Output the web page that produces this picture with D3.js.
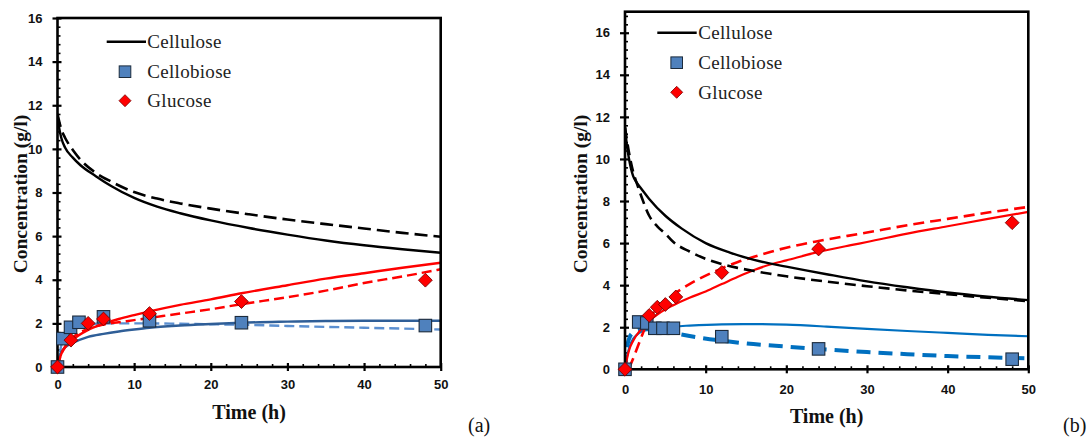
<!DOCTYPE html>
<html>
<head>
<meta charset="utf-8">
<script src="https://cdn.jsdelivr.net/npm/d3@7"></script>
<style>
  html, body { margin: 0; padding: 0; background: #fff; }
  svg { display: block; }
</style>
</head>
<body>
<svg id="chart" width="1091" height="438"></svg>
<script>
// ---------- shared labels / ticks ----------
const legendLabels = ["Cellulose", "Cellobiose", "Glucose"];
const xTitle = "Time (h)";
const yTitle = "Concentration (g/l)";
const timeTicks = [0, 10, 20, 30, 40, 50];
const concTicks = [0, 2, 4, 6, 8, 10, 12, 14, 16];

// ---------- panel (a) ----------
const a_cellobioseT = [0, 0.7, 1.7, 2.8, 6, 12, 24, 48];
const a_cellobioseC = [0, 1.3, 1.82, 2.05, 2.3, 2.12, 2.03, 1.9];
const a_glucoseT = [0, 1.75, 4, 6, 12, 24, 48];
const a_glucoseC = [0, 1.23, 2.0, 2.2, 2.45, 3.0, 3.98];

const a_celluloseSolidT = [0, 0.25, 0.5, 1, 2, 3, 5, 7, 10, 13, 16, 20, 25, 30, 35, 40, 45, 50];
const a_celluloseSolidC = [11.6, 10.9, 10.5, 10.05, 9.6, 9.25, 8.75, 8.3, 7.75, 7.35, 7.05, 6.72, 6.37, 6.07, 5.8, 5.58, 5.4, 5.24];
const a_celluloseDashT = [0, 0.5, 1, 1.5, 2, 3, 5, 7, 10, 13, 16, 20, 25, 30, 35, 40, 45, 50];
const a_celluloseDashC = [11.6, 10.9, 10.5, 10.2, 9.95, 9.5, 8.9, 8.5, 8.02, 7.72, 7.5, 7.26, 7.0, 6.76, 6.55, 6.35, 6.15, 5.97];
const a_glucoseSolidT = [0, 0.5, 1, 2, 4, 6, 8, 10, 12, 16, 20, 24, 30, 35, 40, 45, 50];
const a_glucoseSolidC = [0, 0.6, 0.9, 1.25, 1.7, 1.98, 2.2, 2.38, 2.55, 2.85, 3.1, 3.38, 3.75, 4.05, 4.3, 4.55, 4.78];
const a_glucoseDashT = [0, 0.5, 1, 2, 4, 6, 8, 10, 12, 16, 20, 24, 30, 35, 40, 45, 50];
const a_glucoseDashC = [0, 0.6, 0.95, 1.35, 1.75, 1.95, 2.05, 2.15, 2.25, 2.45, 2.65, 2.88, 3.2, 3.5, 3.85, 4.15, 4.48];
const a_cellobioseSolidT = [0, 0.3, 0.5, 1, 2, 4, 6, 8, 10, 12, 16, 20, 24, 30, 35, 40, 45, 50];
const a_cellobioseSolidC = [0, 0.55, 0.7, 0.9, 1.1, 1.38, 1.52, 1.63, 1.72, 1.8, 1.9, 1.97, 2.03, 2.08, 2.11, 2.12, 2.12, 2.12];
const a_cellobioseDashT = [0, 0.5, 1, 2, 3, 5, 8, 12, 16, 20, 25, 30, 35, 40, 45, 50];
const a_cellobioseDashC = [0, 1.0, 1.4, 1.75, 1.9, 1.98, 2.0, 2.0, 1.98, 1.96, 1.93, 1.88, 1.84, 1.8, 1.76, 1.72];

// ---------- panel (b) ----------
const b_cellobioseT = [0, 1.7, 2.7, 3.7, 4.7, 6, 12, 24, 48];
const b_cellobioseC = [0, 2.25, 2.2, 1.95, 1.95, 1.95, 1.55, 0.97, 0.48];
const b_glucoseT = [0, 3, 4, 5, 6.3, 12, 24, 48];
const b_glucoseC = [0, 2.56, 2.95, 3.08, 3.44, 4.6, 5.72, 6.97];

const b_celluloseSolidT = [0, 0.25, 0.5, 1, 1.5, 2, 3, 5, 7, 10, 13, 16, 19, 20, 25, 30, 35, 40, 45, 50];
const b_celluloseSolidC = [11.5, 10.6, 10.0, 9.2, 8.85, 8.6, 8.1, 7.3, 6.7, 6.0, 5.55, 5.2, 4.95, 4.88, 4.52, 4.18, 3.9, 3.65, 3.45, 3.29];
const b_celluloseDashT = [0, 0.5, 1, 1.5, 2, 3, 4, 5, 6, 8, 10, 12, 14, 16, 18, 20, 25, 30, 35, 40, 45, 50];
const b_celluloseDashC = [11.5, 10.3, 9.4, 8.8, 8.25, 7.3, 6.8, 6.45, 6.05, 5.6, 5.25, 5.0, 4.82, 4.67, 4.54, 4.42, 4.17, 3.95, 3.75, 3.57, 3.4, 3.24];
const b_glucoseSolidT = [0, 0.3, 0.5, 1, 2, 3, 4, 5, 6, 8, 10, 12, 14, 16, 18, 20, 24, 28, 30, 35, 40, 45, 50];
const b_glucoseSolidC = [0, 0.6, 0.9, 1.35, 1.9, 2.3, 2.6, 2.85, 3.05, 3.4, 3.7, 4.05, 4.4, 4.72, 4.98, 5.18, 5.58, 5.9, 6.05, 6.45, 6.8, 7.15, 7.48];
const b_glucoseDashT = [0.5, 1, 1.5, 2, 3, 4, 5, 6, 8, 10, 12, 14, 16, 18, 20, 24, 30, 35, 40, 45, 50];
const b_glucoseDashC = [0.05, 0.5, 1.0, 1.5, 2.4, 2.9, 3.25, 3.55, 4.05, 4.45, 4.8, 5.1, 5.35, 5.58, 5.78, 6.1, 6.5, 6.85, 7.15, 7.45, 7.72];
const b_cellobioseSolidT = [0, 0.3, 0.5, 1, 1.5, 2, 3, 5, 8, 12, 16, 20, 25, 30, 35, 40, 45, 50];
const b_cellobioseSolidC = [0, 0.7, 1.0, 1.45, 1.65, 1.78, 1.9, 2.0, 2.08, 2.14, 2.15, 2.12, 2.03, 1.92, 1.82, 1.73, 1.64, 1.57];
const b_cellobioseDashT = [0, 0.2, 0.5, 1, 2, 3, 5, 7, 9, 12, 15, 20, 24, 30, 35, 40, 45, 50];
const b_cellobioseDashC = [0, 0.9, 1.45, 1.75, 1.9, 1.9, 1.8, 1.65, 1.52, 1.36, 1.23, 1.08, 0.97, 0.82, 0.72, 0.63, 0.57, 0.52];

// ---------- drawing ----------
const svg = d3.select("#chart");
const zip = (t, c) => t.map((v, i) => [v, c[i]]);
const serif = "'Liberation Serif', 'Times New Roman', serif";
const sans = "'Liberation Sans', Arial, sans-serif";

function diamondPath(r) { return `M0,${-r}L${r},0L0,${r}L${-r},0Z`; }

function drawPanel(p) {
  const g = svg.append("g");
  const x = d3.scaleLinear().domain([0, 50]).range([p.x0, p.x1]);
  const y = d3.scaleLinear().domain([0, p.ymax]).range([p.y0, p.y1]);

  const clipId = "clip" + p.id;
  svg.append("clipPath").attr("id", clipId).append("rect")
    .attr("x", p.x0).attr("y", p.y1).attr("width", p.x1 - p.x0).attr("height", p.y0 - p.y1);

  // minor ticks (inside)
  const yMinor = d3.range(0, p.ymax + 0.001, 0.4).filter(v => Math.abs(v / 2 - Math.round(v / 2)) > 0.01);
  g.append("g").attr("transform", `translate(${p.x0},0)`)
    .call(d3.axisRight(y).tickValues(yMinor).tickSize(3).tickFormat(""))
    .call(s => s.select(".domain").remove())
    .selectAll("line").attr("stroke", "#000").attr("stroke-width", 1.6);
  const xMinor = d3.range(2, 50, 2).filter(v => v % 10 !== 0);
  g.append("g").attr("transform", `translate(0,${p.y0})`)
    .call(d3.axisTop(x).tickValues(xMinor).tickSize(3).tickFormat(""))
    .call(s => s.select(".domain").remove())
    .selectAll("line").attr("stroke", "#000").attr("stroke-width", 1.6);

  // major ticks, outward with labels
  const yAx = g.append("g").attr("transform", `translate(${p.x0},0)`)
    .call(d3.axisLeft(y).tickValues(concTicks).tickSize(5).tickPadding(10).tickFormat(d3.format("d")));
  yAx.select(".domain").remove();
  yAx.selectAll("line").attr("stroke", "#000").attr("stroke-width", 2.2);
  yAx.selectAll("text").attr("font-family", sans).attr("font-weight", "bold").attr("font-size", 13).attr("fill", "#111");
  // inward part of major y ticks
  g.append("g").attr("transform", `translate(${p.x0},0)`)
    .call(d3.axisRight(y).tickValues(concTicks).tickSize(4).tickFormat(""))
    .call(s => s.select(".domain").remove())
    .selectAll("line").attr("stroke", "#000").attr("stroke-width", 2.2);

  const xAx = g.append("g").attr("transform", `translate(0,${p.y0})`)
    .call(d3.axisBottom(x).tickValues(timeTicks).tickSize(4).tickPadding(p.xPad).tickFormat(d3.format("d")));
  xAx.select(".domain").remove();
  xAx.selectAll("line").attr("stroke", "#000").attr("stroke-width", 2.2);
  xAx.selectAll("text").attr("font-family", sans).attr("font-weight", "bold").attr("font-size", 13).attr("fill", "#111");
  g.append("g").attr("transform", `translate(0,${p.y0})`)
    .call(d3.axisTop(x).tickValues(timeTicks).tickSize(4).tickFormat(""))
    .call(s => s.select(".domain").remove())
    .selectAll("line").attr("stroke", "#000").attr("stroke-width", 2.2);

  // curves
  const line = d3.line().x(d => x(d[0])).y(d => y(d[1])).curve(d3.curveMonotoneX);
  const cg = g.append("g").attr("clip-path", `url(#${clipId})`);
  p.curves.forEach(c => {
    cg.append("path").attr("d", line(c.data)).attr("fill", "none")
      .attr("stroke", c.color).attr("stroke-width", c.width)
      .attr("stroke-dasharray", c.dash || null)
      .attr("stroke-linecap", "butt").attr("stroke-linejoin", "round");
  });

  // frame
  g.append("rect").attr("x", p.x0).attr("y", p.y1).attr("width", p.x1 - p.x0).attr("height", p.y0 - p.y1)
    .attr("fill", "none").attr("stroke", "#000").attr("stroke-width", 2.6);

  // markers
  const sq = 12.5;
  g.append("g").selectAll("rect").data(p.squares).join("rect")
    .attr("x", d => x(d[0]) - sq / 2).attr("y", d => y(d[1]) - sq / 2)
    .attr("width", sq).attr("height", sq)
    .attr("fill", "#4F81BD").attr("stroke", "#1C2B3C").attr("stroke-width", 1.1);
  g.append("g").selectAll("path").data(p.diamonds).join("path")
    .attr("transform", d => `translate(${x(d[0])},${y(d[1])})`)
    .attr("d", diamondPath(6.9))
    .attr("fill", "#FF0000").attr("stroke", "#7A0000").attr("stroke-width", 0.9);

  // legend
  const L = p.legend;
  g.append("line").attr("x1", L.lx0).attr("x2", L.lx1).attr("y1", L.y[0]).attr("y2", L.y[0])
    .attr("stroke", "#000").attr("stroke-width", 2.6);
  g.append("rect").attr("x", L.mx - 5.8).attr("y", L.y[1] - 5.8).attr("width", 11.6).attr("height", 11.6)
    .attr("fill", "#4F81BD").attr("stroke", "#1C2B3C").attr("stroke-width", 1);
  g.append("path").attr("transform", `translate(${L.mx},${L.y[2]})`).attr("d", diamondPath(6))
    .attr("fill", "#FF0000").attr("stroke", "#7A0000").attr("stroke-width", 0.8);
  legendLabels.forEach((t, i) => {
    g.append("text").attr("x", L.tx).attr("y", L.y[i]).attr("dy", "0.34em")
      .attr("font-family", serif).attr("font-size", 19).attr("fill", "#222")
      .attr("letter-spacing", 0.3).text(t);
  });

  // titles
  g.append("text").attr("x", (p.x0 + p.x1) / 2).attr("y", p.xTitleY).attr("text-anchor", "middle")
    .attr("font-family", serif).attr("font-weight", "bold").attr("font-size", 20).attr("fill", "#111").text(xTitle);
  g.append("text").attr("transform", `translate(${p.yTitleX},${p.yTitleCY}) rotate(-90)`)
    .attr("text-anchor", "middle").attr("dy", "0.35em")
    .attr("font-family", serif).attr("font-weight", "bold").attr("font-size", 19.5).attr("fill", "#111").text(yTitle);
  g.append("text").attr("x", p.tagX).attr("y", p.tagY).attr("font-family", serif).attr("font-size", 20)
    .attr("fill", "#111").text(p.tag);
}

drawPanel({
  id: "a", x0: 57.5, x1: 440.7, y0: 367, y1: 18, ymax: 16, xPad: 9,
  xTitleY: 419, yTitleX: 20, yTitleCY: 194, tag: "(a)", tagX: 468, tagY: 432,
  legend: { lx0: 106.7, lx1: 146, tx: 147.3, mx: 125, y: [41.7, 71.7, 100.7] },
  squares: zip(a_cellobioseT, a_cellobioseC),
  diamonds: zip(a_glucoseT, a_glucoseC),
  curves: [
    { data: zip(a_cellobioseDashT, a_cellobioseDashC), color: "#5B8FD0", width: 2.4, dash: "10,5" },
    { data: zip(a_cellobioseSolidT, a_cellobioseSolidC), color: "#2F5E97", width: 2.4 },
    { data: zip(a_glucoseDashT, a_glucoseDashC), color: "#FF0000", width: 2.4, dash: "10,5" },
    { data: zip(a_glucoseSolidT, a_glucoseSolidC), color: "#FF0000", width: 2.4 },
    { data: zip(a_celluloseDashT, a_celluloseDashC), color: "#000", width: 2.6, dash: "13,6" },
    { data: zip(a_celluloseSolidT, a_celluloseSolidC), color: "#000", width: 2.4 }
  ]
});

drawPanel({
  id: "b", x0: 625, x1: 1028.3, y0: 369.3, y1: 11.7, ymax: 17, xPad: 11,
  xTitleY: 423, yTitleX: 580, yTitleCY: 194, tag: "(b)", tagX: 1063, tagY: 432,
  legend: { lx0: 657.3, lx1: 696.7, tx: 698.3, mx: 676.7, y: [32.7, 62.7, 92.3] },
  squares: zip(b_cellobioseT, b_cellobioseC),
  diamonds: zip(b_glucoseT, b_glucoseC),
  curves: [
    { data: zip(b_cellobioseDashT, b_cellobioseDashC), color: "#0070C0", width: 4, dash: "14,8" },
    { data: zip(b_cellobioseSolidT, b_cellobioseSolidC), color: "#0070C0", width: 2.2 },
    { data: zip(b_glucoseDashT, b_glucoseDashC), color: "#FF0000", width: 2.6, dash: "11,6" },
    { data: zip(b_glucoseSolidT, b_glucoseSolidC), color: "#FF0000", width: 2.2 },
    { data: zip(b_celluloseDashT, b_celluloseDashC), color: "#000", width: 2.6, dash: "11,6" },
    { data: zip(b_celluloseSolidT, b_celluloseSolidC), color: "#000", width: 2.4 }
  ]
});
</script>
</body>
</html>
